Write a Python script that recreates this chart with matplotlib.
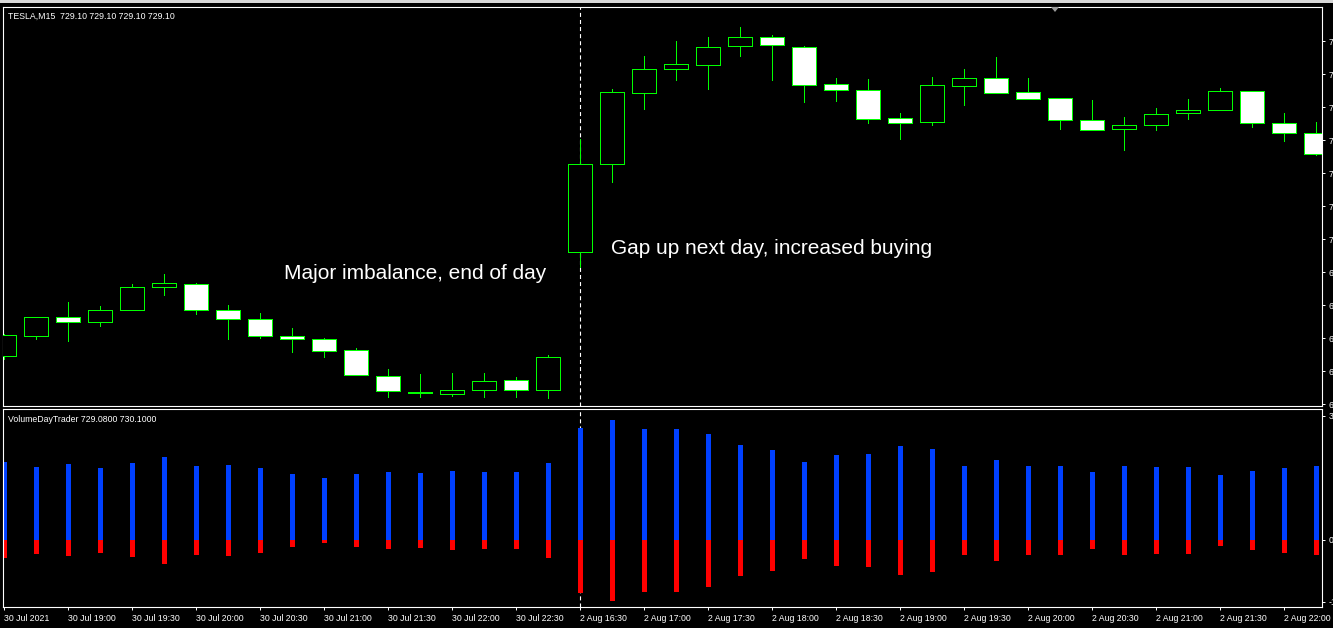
import numpy as np
import matplotlib.pyplot as plt
from matplotlib.patches import Rectangle, Polygon

plt.rcParams['font.family'] = ['Liberation Sans', 'DejaVu Sans']
plt.rcParams['lines.scale_dashes'] = False

# =================== DATA =================== #

opens = [685.89, 688.32, 690.55, 689.94, 691.47, 694.18, 694.55, 691.39, 690.30, 688.24,
         687.88, 686.55, 683.39, 681.45, 681.21, 681.70, 682.91, 681.70, 698.42, 709.09,
         717.70, 720.61, 721.09, 723.39, 724.48, 723.27, 718.79, 718.06, 714.67, 714.18,
         718.55, 719.52, 717.82, 717.09, 714.42, 713.33, 713.82, 715.27, 715.64, 717.94,
         714.06, 712.85]
closes = [688.36, 690.55, 689.94, 691.39, 694.18, 694.67, 691.39, 690.30, 688.24, 687.88,
          686.42, 683.52, 681.58, 681.33, 681.70, 682.79, 681.70, 685.70, 709.09, 717.82,
          720.61, 721.21, 723.27, 724.48, 723.52, 718.67, 718.06, 714.55, 714.06, 718.67,
          719.52, 717.70, 716.97, 714.42, 713.21, 713.82, 715.15, 715.64, 717.94, 714.06,
          712.85, 710.30]
highs = [688.52, 690.55, 692.40, 691.92, 694.58, 695.79, 694.70, 692.04, 691.07, 689.25,
         688.00, 686.79, 684.28, 683.67, 683.79, 683.79, 683.31, 685.98, 712.12, 718.22,
         722.22, 724.04, 724.52, 725.73, 724.76, 723.43, 719.55, 719.43, 715.31, 719.67,
         720.64, 722.10, 719.55, 717.09, 716.88, 714.79, 715.88, 716.97, 718.30, 717.94,
         715.27, 714.18]
lows = [685.53, 687.92, 687.71, 689.53, 691.47, 693.28, 690.98, 687.95, 688.07, 686.38,
        685.77, 683.52, 680.92, 680.92, 681.04, 680.92, 680.92, 680.80, 696.61, 706.98,
        715.83, 719.35, 718.25, 722.25, 719.35, 716.68, 716.80, 714.13, 712.19, 713.89,
        716.32, 717.70, 716.97, 713.41, 713.21, 710.79, 713.21, 714.62, 715.64, 713.58,
        711.88, 710.18]

buy_vol = [19500, 18250, 19000, 18000, 19250, 20750, 18500, 18750, 18000, 16500,
           15500, 16500, 17000, 16750, 17250, 17000, 17000, 19250, 28000, 30000,
           27750, 27750, 26500, 23750, 22500, 19500, 21250, 21500, 23500, 22750,
           18500, 20000, 18500, 18500, 17000, 18500, 18250, 18250, 16250, 17250,
           18000, 18500]
sell_vol = [4700, 3500, 4200, 3250, 4400, 6000, 3750, 4000, 3250, 1750,
            750, 1750, 2250, 2000, 2500, 2250, 2250, 4500, 13250, 15250,
            13000, 13000, 11750, 9000, 7750, 4750, 6500, 6750, 8750, 8000,
            3750, 5250, 3750, 3750, 2250, 3750, 3500, 3500, 1500, 2500,
            3250, 3750]

time_labels = ['30 Jul 2021', '30 Jul 19:00', '30 Jul 19:30', '30 Jul 20:00', '30 Jul 20:30',
               '30 Jul 21:00', '30 Jul 21:30', '30 Jul 22:00', '30 Jul 22:30', '2 Aug 16:30',
               '2 Aug 17:00', '2 Aug 17:30', '2 Aug 18:00', '2 Aug 18:30', '2 Aug 19:00',
               '2 Aug 19:30', '2 Aug 20:00', '2 Aug 20:30', '2 Aug 21:00', '2 Aug 21:30',
               '2 Aug 22:00']
price_ticks = [680, 684, 688, 692, 696, 700, 704, 708, 712, 716, 720, 724]
vol_ticks = [-15500, 0, 31000]
vol_tick_labels = ['-15500', '0.00', '31000']
day_break = 18

# =================== PLOT =================== #

W, H = 1333, 628
GREEN = '#00ff00'
fig = plt.figure(figsize=(W / 100, H / 100), dpi=100, facecolor='black')

def px_axes(x0, y0, x1, y1):
    return fig.add_axes([x0 / W, 1 - y1 / H, (x1 - x0) / W, (y1 - y0) / H])

ax = px_axes(3, 7, 1322, 406)
ax2 = px_axes(3, 409, 1322, 607)

x = np.arange(len(opens))
xlim = ((3 - 4.4) / 32, (1322 - 4.4) / 32)

for a in (ax, ax2):
    a.set_facecolor('black')
    a.set_xlim(*xlim)
    for s in a.spines.values():
        s.set_color('white')
        s.set_linewidth(0.8)
    a.axvline(day_break, color='white', lw=0.8, ls=(0, (2.9, 2.2)), zorder=1)

# candles
o = np.array(opens)
c = np.array(closes)
faces = ['black' if cc > oo else 'white' for oo, cc in zip(o, c)]
ax.vlines(x, lows, highs, color=GREEN, lw=0.6, zorder=2, antialiased=False)
ax.bar(x, c - o, bottom=o, width=0.75, color=faces, edgecolor=GREEN, linewidth=0.6,
       zorder=3, antialiased=False)
ax.set_ylim(679.79, 728.16)
ax.yaxis.tick_right()
ax.set_yticks(price_ticks)
ax.set_yticklabels(['%.2f' % p for p in price_ticks])
ax.tick_params(axis='y', colors='white', length=2.5, width=0.7, labelsize=6.3, pad=2.2)
ax.set_xticks([])

ax.text((284 - 3) / 1319, 1 - (279 - 7) / 399, 'Major imbalance, end of day',
        transform=ax.transAxes, color='white', fontsize=15, va='baseline', ha='left')
ax.text((611 - 3) / 1319, 1 - (254 - 7) / 399, 'Gap up next day, increased buying',
        transform=ax.transAxes, color='white', fontsize=15, va='baseline', ha='left')
ax.text((8 - 3) / 1319, 1 - (18.5 - 7) / 399, 'TESLA,M15  729.10 729.10 729.10 729.10',
        transform=ax.transAxes, color='white', fontsize=6.3, va='baseline', ha='left')

# volume
ax2.bar(x, buy_vol, width=0.16, color='#0040ff', zorder=2, antialiased=False)
ax2.bar(x, -np.array(sell_vol), width=0.16, color='#ff0000', zorder=2, antialiased=False)
ax2.set_ylim(-16875, 32625)
ax2.yaxis.tick_right()
ax2.set_yticks(vol_ticks)
ax2.set_yticklabels(vol_tick_labels)
ax2.tick_params(axis='y', colors='white', length=2.5, width=0.7, labelsize=6.3, pad=2.2)
ax2.set_xticks(x[::2])
ax2.set_xticklabels(time_labels, ha='left')
ax2.tick_params(axis='x', colors='white', length=2.5, width=0.7, labelsize=6.3, pad=2.5)
ax2.text((8 - 3) / 1319, 1 - (422 - 409) / 198, 'VolumeDayTrader 729.0800 730.1000',
         transform=ax2.transAxes, color='white', fontsize=6.3, va='baseline', ha='left')

# window chrome
fig.patches.append(Rectangle((0, 1 - 3 / H), 1, 3 / H, transform=fig.transFigure,
                             facecolor='#d8d8d8', edgecolor='none'))
fig.patches.append(Polygon([(1051, H - 7), (1059, H - 7), (1055, H - 12)], closed=True,
                           transform=None, facecolor='#9a9a9a', edgecolor='none'))

fig.savefig('out.png', dpi=100, facecolor='black')
